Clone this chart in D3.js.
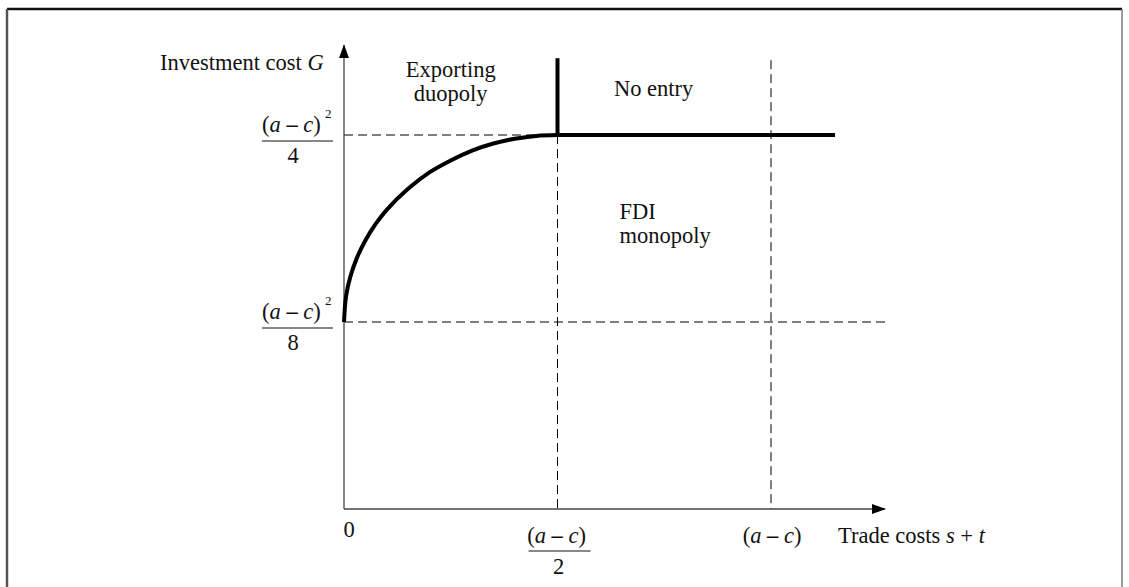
<!DOCTYPE html>
<html>
<head>
<meta charset="utf-8">
<script src="https://cdn.jsdelivr.net/npm/d3@7"></script>
<style>
  body { margin: 0; background: #fff; }
  svg { display: block; }
  text { font-family: "Liberation Serif", "DejaVu Serif", serif; fill: #111; }
</style>
</head>
<body>
<svg width="1129" height="587"></svg>
<script>
// trade cost s+t in units of (a-c), investment cost G in units of (a-c)^2
const tradeCost = [0, 0.005, 0.015, 0.03, 0.05, 0.075, 0.1, 0.15, 0.2, 0.25, 0.3, 0.35, 0.4, 0.45, 0.5];
const thresholdG = [0.125, 0.1426, 0.1554, 0.1677, 0.1795, 0.1909, 0.200, 0.214, 0.225, 0.233, 0.2396, 0.2443, 0.2475, 0.2494, 0.25];
const yTicks = [0.25, 0.125];
const yTickDenoms = ["4", "8"];
const xTicks = [0, 0.5, 1];
const noEntryTop = 0.30;
const horizEnd = 1.15;
const xAxisEnd = 1.267;
const yAxisEnd = 0.31;
const regionLabels = [
  { lines: ["Exporting", "duopoly"], x: 0.25, y: 0.289, anchor: "middle" },
  { lines: ["No entry"], x: 0.725, y: 0.276, anchor: "middle" },
  { lines: ["FDI", "monopoly"], x: 0.645, y: 0.194, anchor: "start" }
];

const svg = d3.select("svg");
const width = +svg.attr("width");
const height = +svg.attr("height");
const fs = 22.5;

const x = d3.scaleLinear().domain([0, 1]).range([344, 771]);
const y = d3.scaleLinear().domain([0, 0.25]).range([509, 135]);

// frame
svg.append("line").attr("x1", 7).attr("y1", 9).attr("x2", 1122).attr("y2", 9)
  .attr("stroke", "#111").attr("stroke-width", 2.5);
svg.append("line").attr("x1", 7).attr("y1", 9).attr("x2", 7).attr("y2", height)
  .attr("stroke", "#555").attr("stroke-width", 2.5);
svg.append("line").attr("x1", 1122).attr("y1", 9).attr("x2", 1122).attr("y2", height)
  .attr("stroke", "#777").attr("stroke-width", 1.5);

const defs = svg.append("defs");
defs.append("marker")
  .attr("id", "arrow")
  .attr("viewBox", "0 0 14 10")
  .attr("refX", 13).attr("refY", 5)
  .attr("markerWidth", 14).attr("markerHeight", 10)
  .attr("markerUnits", "userSpaceOnUse")
  .attr("orient", "auto")
  .append("path").attr("d", "M0,0 L14,5 L0,10 Z").attr("fill", "#000");

const dashed = svg.append("g").attr("stroke", "#000").attr("stroke-width", 1).attr("stroke-dasharray", "9,5");
dashed.append("line").attr("x1", x(0)).attr("x2", x(0.5)).attr("y1", y(0.25)).attr("y2", y(0.25));
dashed.append("line").attr("x1", x(0)).attr("x2", x(xAxisEnd)).attr("y1", y(0.125)).attr("y2", y(0.125));
dashed.append("line").attr("x1", x(0.5)).attr("x2", x(0.5)).attr("y1", y(0.25)).attr("y2", y(0));
dashed.append("line").attr("x1", x(1)).attr("x2", x(1)).attr("y1", y(noEntryTop)).attr("y2", y(0));

// axes
const axes = svg.append("g").attr("stroke", "#444").attr("stroke-width", 1.3);
axes.append("line").attr("x1", x(0)).attr("y1", y(0)).attr("x2", x(xAxisEnd)).attr("y2", y(0))
  .attr("marker-end", "url(#arrow)");
axes.append("line").attr("x1", x(0)).attr("y1", y(0)).attr("x2", x(0)).attr("y2", y(yAxisEnd))
  .attr("marker-end", "url(#arrow)");

// boundaries
const thick = svg.append("g").attr("stroke", "#000").attr("stroke-width", 4).attr("fill", "none");
const pts = tradeCost.map((t, i) => [t, thresholdG[i]]);
thick.append("path")
  .attr("d", d3.line().x(d => x(d[0])).y(d => y(d[1])).curve(d3.curveCatmullRom.alpha(0.5))(pts));
thick.append("line").attr("x1", x(0.5)).attr("x2", x(horizEnd)).attr("y1", y(0.25)).attr("y2", y(0.25));
thick.append("line").attr("x1", x(0.5)).attr("x2", x(0.5)).attr("y1", y(noEntryTop)).attr("y2", y(0.25))
  .attr("stroke-linecap", "square");

// (a – c) text builder
function amc(sel) {
  sel.append("tspan").text("(");
  sel.append("tspan").attr("font-style", "italic").text("a");
  sel.append("tspan").attr("font-weight", "bold").text(" – ");
  sel.append("tspan").attr("font-style", "italic").text("c");
  sel.append("tspan").text(")");
}

// y tick labels
yTicks.forEach((v, i) => {
  const g = svg.append("g").attr("transform", `translate(297,${y(v)})`);
  const num = g.append("text").attr("x", -35).attr("y", -3).attr("font-size", fs);
  amc(num);
  g.append("text").attr("x", 28).attr("y", -17).attr("font-size", 13).text("2");
  g.append("line").attr("x1", -35).attr("x2", 36).attr("y1", 6).attr("y2", 6)
    .attr("stroke", "#111").attr("stroke-width", 1.2);
  g.append("text").attr("x", -4).attr("y", 28).attr("text-anchor", "middle").attr("font-size", fs)
    .text(yTickDenoms[i]);
});

// x tick labels
xTicks.forEach(v => {
  const g = svg.append("g").attr("transform", `translate(${x(v)},${y(0)})`);
  if (v === 0) {
    g.append("text").attr("x", 5).attr("y", 28).attr("text-anchor", "middle").attr("font-size", fs).text("0");
  } else if (v === 0.5) {
    const t = g.append("text").attr("x", -1).attr("y", 34).attr("text-anchor", "middle").attr("font-size", fs);
    amc(t);
    g.append("line").attr("x1", -29).attr("x2", 33).attr("y1", 42).attr("y2", 42)
      .attr("stroke", "#111").attr("stroke-width", 1.2);
    g.append("text").attr("x", 1).attr("y", 65).attr("text-anchor", "middle").attr("font-size", fs).text("2");
  } else {
    const t = g.append("text").attr("x", 1).attr("y", 34).attr("text-anchor", "middle").attr("font-size", fs);
    amc(t);
  }
});

// axis titles
const yTitle = svg.append("text").attr("x", 160).attr("y", 70).attr("font-size", fs);
yTitle.append("tspan").text("Investment cost ");
yTitle.append("tspan").attr("font-style", "italic").text("G");

const xTitle = svg.append("text").attr("x", 838).attr("y", 543).attr("font-size", fs);
xTitle.append("tspan").text("Trade costs  ");
xTitle.append("tspan").attr("font-style", "italic").text("s");
xTitle.append("tspan").text(" + ");
xTitle.append("tspan").attr("font-style", "italic").text("t");

// regions
regionLabels.forEach(r => {
  r.lines.forEach((l, i) => svg.append("text")
    .attr("x", x(r.x)).attr("y", y(r.y) + i * 24)
    .attr("text-anchor", r.anchor).attr("font-size", fs)
    .text(l));
});
</script>
</body>
</html>
